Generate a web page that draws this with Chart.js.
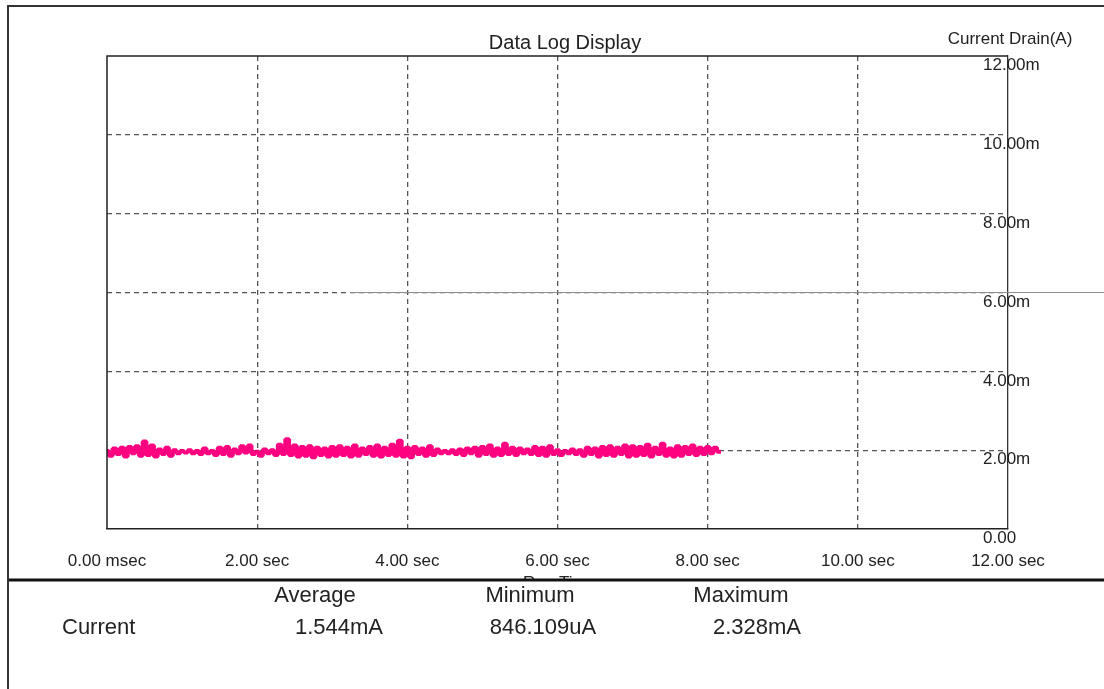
<!DOCTYPE html>
<html>
<head>
<meta charset="utf-8">
<title>Data Log Display</title>
<script src="https://cdn.jsdelivr.net/npm/chart.js@4.4.1/dist/chart.umd.min.js"></script>
<style>
    html, body { margin: 0; padding: 0; background: #fff; overflow: hidden; }
    canvas { display: block; }
</style>
</head>
<body>
<canvas id="logChart" width="1104" height="689"></canvas>
<script>
// axis ticks (seconds / mA)
const timeTicks = [0, 2, 4, 6, 8, 10, 12];
const currentTicks = [0, 2, 4, 6, 8, 10, 12];

// logger samples every 50 ms, values in mA
const sampleInterval = 0.05;
const currentDrain = [
    1.98, 1.86, 2.04, 1.90, 2.06, 1.84, 2.08, 1.92, 2.10, 1.86,
    2.22, 1.88, 2.12, 1.84, 2.02, 1.90, 2.06, 1.86, 2.00, 1.92,
    1.98, 1.94, 2.00, 1.92, 1.98, 1.90, 2.04, 1.92, 1.98, 1.88,
    2.06, 1.90, 2.08, 1.86, 2.02, 1.92, 2.10, 1.94, 2.12, 1.90,
    1.96, 1.86, 2.02, 1.92, 2.00, 1.88, 2.14, 1.90, 2.28, 1.88,
    2.12, 1.84, 2.08, 1.86, 2.10, 1.82, 2.06, 1.88, 2.04, 1.84,
    2.08, 1.86, 2.10, 1.88, 2.06, 1.84, 2.12, 1.86, 2.04, 1.90,
    2.08, 1.86, 2.12, 1.84, 2.06, 1.88, 2.14, 1.86, 2.24, 1.84,
    2.06, 1.82, 2.08, 1.90, 2.04, 1.86, 2.10, 1.88, 2.02, 1.92,
    1.98, 1.92, 2.00, 1.90, 2.02, 1.88, 2.04, 1.92, 2.06, 1.86,
    2.08, 1.90, 2.12, 1.86, 2.04, 1.88, 2.16, 1.90, 2.06, 1.88,
    2.04, 1.92, 2.02, 1.90, 2.08, 1.88, 2.06, 1.86, 2.10, 1.90,
    2.00, 1.88, 1.98, 1.92, 2.02, 1.90, 2.00, 1.86, 2.06, 1.90,
    2.04, 1.84, 2.08, 1.88, 2.10, 1.86, 2.06, 1.90, 2.12, 1.84,
    2.10, 1.86, 2.08, 1.88, 2.14, 1.84, 2.06, 1.90, 2.16, 1.86,
    2.04, 1.84, 2.10, 1.86, 2.08, 1.90, 2.12, 1.88, 2.06, 1.90,
    2.08, 1.92, 2.06, 1.96
];

// stray grey cursor line at 6 mA
const cursorTimes = [3.24, 13.3];
const cursorLevel = 6;

// summary table under the plot
const statNames = ['Average', 'Minimum', 'Maximum'];
const statValues = ['1.544mA', '846.109uA', '2.328mA'];
const statRowLabel = 'Current';

const FONT = "'Liberation Sans', Arial, sans-serif";

const tracePoints = currentDrain.map((v, i) => ({ x: i * sampleInterval, y: v }));
const cursorPoints = cursorTimes.map(t => ({ x: t, y: cursorLevel }));

// frame, title, right-hand labels and the stats panel
const panelPlugin = {
    id: 'panel',
    beforeDraw(chart) {
        const ctx = chart.ctx;
        ctx.save();
        ctx.fillStyle = '#fff';
        ctx.fillRect(0, 0, chart.width, chart.height);
        ctx.restore();
    },
    afterDraw(chart) {
        const ctx = chart.ctx;
        const area = chart.chartArea;
        const yScale = chart.scales.y;
        ctx.save();

        // left and top edges of the plot
        ctx.strokeStyle = '#222';
        ctx.lineWidth = 1.5;
        ctx.beginPath();
        ctx.moveTo(area.left, area.bottom);
        ctx.lineTo(area.left, area.top);
        ctx.lineTo(area.right, area.top);
        ctx.stroke();

        // titles
        ctx.fillStyle = '#222';
        ctx.textAlign = 'center';
        ctx.textBaseline = 'middle';
        ctx.font = '20px ' + FONT;
        ctx.fillText('Data Log Display', 565, 43);
        ctx.font = '17px ' + FONT;
        ctx.fillText('Current Drain(A)', 1010, 39);

        // y labels sit just under their grid line, straddling the right edge
        ctx.font = '17px ' + FONT;
        ctx.textAlign = 'left';
        ctx.textBaseline = 'top';
        yScale.ticks.forEach(t => {
            const py = yScale.getPixelForValue(t.value);
            const txt = t.value === 0 ? '0.00' : t.value.toFixed(2) + 'm';
            ctx.fillText(txt, area.right - 25, py + 1);
        });

        // x axis title, mostly hidden by the stats panel
        ctx.textAlign = 'center';
        ctx.textBaseline = 'middle';
        ctx.fillText('Run Time', (area.left + area.right) / 2 + 2, 583);

        // stats panel
        ctx.fillStyle = '#fff';
        ctx.fillRect(9, 580, chart.width - 9, chart.height - 580);
        ctx.strokeStyle = '#111';
        ctx.lineWidth = 3;
        ctx.beginPath();
        ctx.moveTo(8, 580);
        ctx.lineTo(chart.width, 580);
        ctx.stroke();

        ctx.fillStyle = '#222';
        ctx.font = '22px ' + FONT;
        const headX = [315, 530, 741];
        const valX = [339, 543, 757];
        statNames.forEach((s, i) => ctx.fillText(s, headX[i], 596));
        statValues.forEach((s, i) => ctx.fillText(s, valX[i], 628));
        ctx.textAlign = 'left';
        ctx.fillText(statRowLabel, 62, 628);

        // outer frame
        ctx.strokeStyle = '#333';
        ctx.lineWidth = 2;
        ctx.beginPath();
        ctx.moveTo(8, chart.height);
        ctx.lineTo(8, 6);
        ctx.lineTo(chart.width, 6);
        ctx.stroke();

        ctx.restore();
    }
};

const chartCtx = document.getElementById('logChart').getContext('2d');
const logChart = new Chart(chartCtx, {
    type: 'line',
    data: {
        datasets: [{
            label: 'Current',
            data: tracePoints,
            borderColor: '#ff0080',
            borderWidth: 4,
            borderJoinStyle: 'bevel',
            borderCapStyle: 'square',
            stepped: 'middle',
            pointRadius: 0,
            fill: false
        }, {
            label: 'Cursor',
            data: cursorPoints,
            borderColor: '#8c8c8c',
            borderWidth: 1,
            pointRadius: 0,
            clip: false,
            fill: false
        }]
    },
    options: {
        responsive: false,
        animation: false,
        layout: {
            padding: { left: 107, top: 56, right: 96, bottom: 110 }
        },
        plugins: {
            legend: { display: false },
            title: { display: false },
            tooltip: { enabled: false }
        },
        scales: {
            x: {
                type: 'linear',
                position: 'bottom',
                min: 0,
                max: 12,
                afterBuildTicks: scale => { scale.ticks = timeTicks.map(v => ({ value: v })); },
                afterFit: scale => { scale.height = 50; },
                grid: {
                    drawTicks: false,
                    color: c => (c.tick && (c.tick.value === 0 || c.tick.value === 12)) ? 'rgba(0,0,0,0)' : '#555',
                    lineWidth: 1.3
                },
                border: { display: true, color: '#222', width: 1.5, dash: [5, 4] },
                ticks: {
                    padding: 22,
                    maxRotation: 0,
                    autoSkip: false,
                    color: '#222',
                    font: { family: FONT, size: 17 },
                    callback: v => v === 0 ? '0.00 msec' : v.toFixed(2) + ' sec'
                }
            },
            y: {
                type: 'linear',
                position: 'right',
                min: 0,
                max: 12,
                afterBuildTicks: scale => { scale.ticks = currentTicks.map(v => ({ value: v })); },
                afterFit: scale => { scale.width = 0; },
                grid: {
                    drawTicks: false,
                    color: c => (c.tick && (c.tick.value === 0 || c.tick.value === 12)) ? 'rgba(0,0,0,0)' : '#555',
                    lineWidth: 1.3
                },
                border: { display: true, color: '#333', width: 1.3, dash: [5, 4] },
                ticks: { display: false }
            }
        }
    },
    plugins: [panelPlugin]
});
</script>
</body>
</html>
